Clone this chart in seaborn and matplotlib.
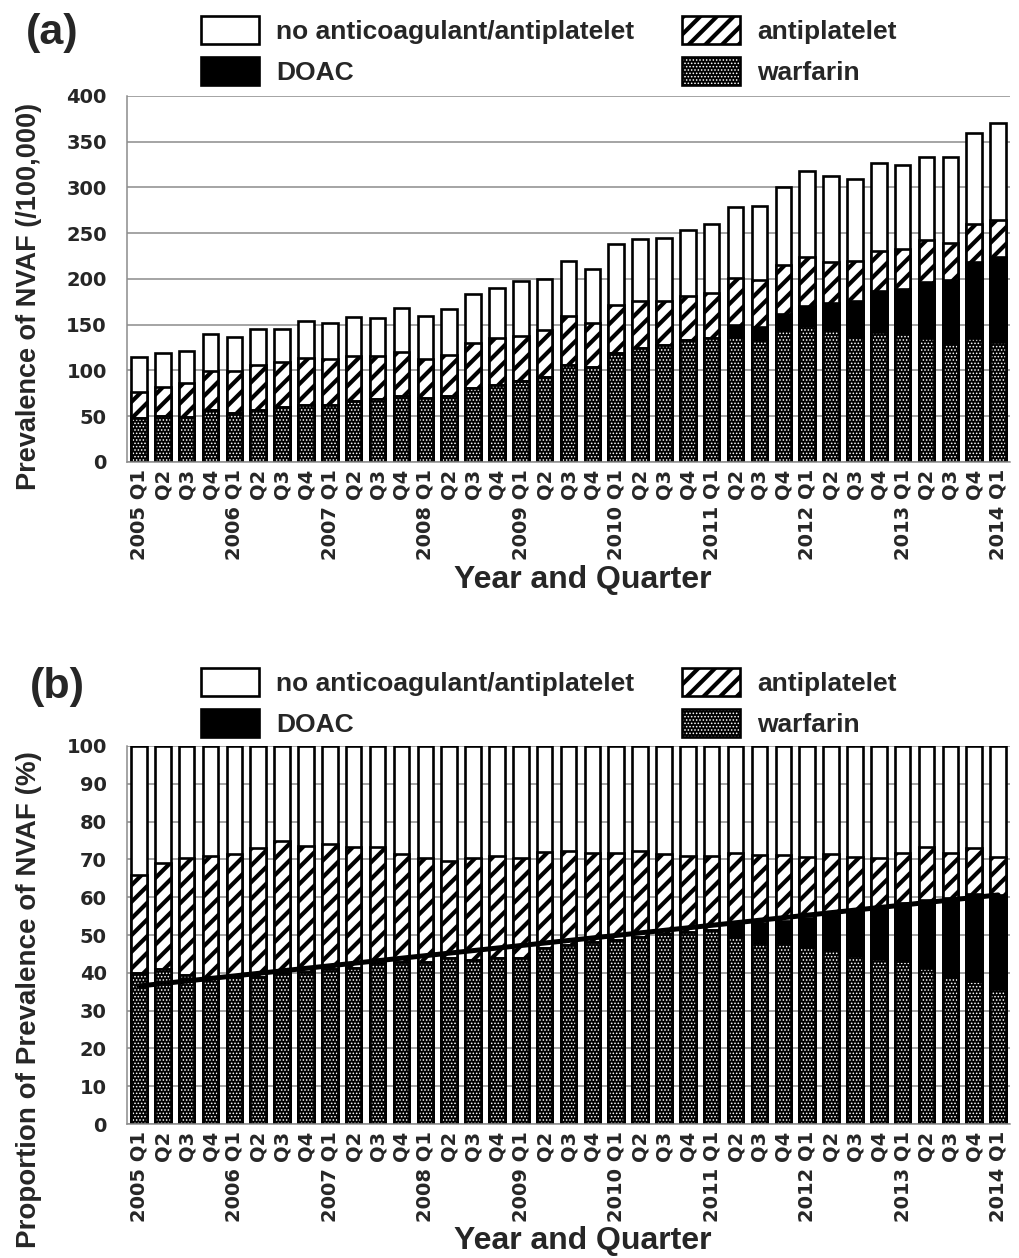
import numpy as np
import pandas as pd
import matplotlib
matplotlib.use("Agg")
import matplotlib.pyplot as plt
import matplotlib.patches as mpatches
import seaborn as sns


# ---- data ----
quarters = list(range(37))  # 2005 Q1 .. 2014 Q1
tick_labels = []
for yr in range(2005, 2015):
    for q in range(1, 5):
        if len(tick_labels) < 37:
            tick_labels.append(f"{yr} Q{q}" if q == 1 else f"Q{q}")

# (a) prevalence per 100,000 (segments)
warfarin_a = [48, 50, 49, 57, 54, 57, 60, 62, 62, 67, 69, 72, 70, 72, 81, 84, 89, 93, 106,
              104, 119, 125, 128, 133, 135, 137, 133, 144, 149, 144, 137, 142, 141, 136, 130, 135, 131]
doac_a = [0] * 25 + [13, 15, 18, 21, 30, 39, 45, 48, 61, 69, 84, 93]
antiplatelet_a = [28, 32, 37, 42, 45, 49, 49, 52, 51, 49, 47, 48, 43, 45, 49, 51, 49, 51, 53,
                  48, 53, 51, 48, 48, 50, 51, 51, 53, 54, 45, 44, 44, 44, 46, 40, 41, 40]
none_a = [39, 37, 35, 41, 38, 39, 36, 40, 39, 42, 41, 48, 46, 50, 54, 55, 60, 56, 61, 59, 66,
          68, 69, 73, 75, 78, 81, 85, 94, 93, 89, 96, 92, 90, 94, 99, 106]

# (b) proportion (%) (segments)
warfarin_b = [40.0, 40.9, 39.5, 39.0, 39.0, 39.0, 40.0, 40.3, 40.9, 41.4, 42.5, 42.8, 42.9,
              43.8, 43.4, 43.8, 44.0, 46.5, 47.4, 48.2, 48.7, 49.6, 50.3, 50.9, 51.3, 49.6,
              47.8, 47.8, 46.7, 46.0, 44.5, 43.6, 43.2, 41.2, 39.0, 37.9, 35.6]
doac_b = [0] * 25 + [3.7, 5.3, 6.0, 7.7, 9.3, 12.1, 13.9, 15.2, 18.1, 20.7, 22.9, 25.0]
antiplatelet_top_b = [65.9, 69.1, 70.5, 70.9, 71.4, 72.9, 74.9, 73.5, 74.0, 73.2, 73.4, 71.3,
                      70.5, 69.7, 70.3, 70.9, 70.5, 72.0, 72.3, 71.8, 71.8, 72.3, 71.4, 70.9,
                      70.9, 71.8, 71.2, 71.2, 70.7, 71.4, 70.7, 70.5, 71.8, 73.2, 71.6, 72.9, 70.7]
antiplatelet_b = list(np.array(antiplatelet_top_b) - np.array(warfarin_b) - np.array(doac_b))
none_b = list(100 - np.array(antiplatelet_top_b))

# linear trend of anticoagulant share (first and last quarter)
trend_x = [0, 36]
trend_b = [36.5, 60.6]

series_names = ["no anticoagulant/antiplatelet", "antiplatelet", "DOAC", "warfarin"]

# ---- style ----
sns.set_style("white")
plt.rcParams['font.family'] = ['Liberation Sans', 'DejaVu Sans']
plt.rcParams['font.weight'] = 'bold'
GREY = "#8c8c8c"
BAR_W = 0.65
BAR_LW = 1.9
STRIPES = "//"
DOTS = "....."
STRIPE_LW = 3.0
DOT_LW = 0.7


def pin_hatch_lw(artists, lw):
    # hatch width differs per layer (thick stripes, fine dots)
    for art in artists:
        if hasattr(art, "set_hatch_linewidth"):
            art.set_hatch_linewidth(lw)
        orig = art.draw

        def draw(renderer, _orig=orig, _lw=lw):
            with plt.rc_context({"hatch.linewidth": _lw}):
                _orig(renderer)
        art.draw = draw


def layer(ax, y, face, hatch=None, hatch_lw=1.0, edge="black", lw=BAR_LW, fill=True):
    n0 = len(ax.patches)
    plt.rcParams["hatch.linewidth"] = hatch_lw
    sns.barplot(x=quarters, y=y, color=face, saturation=1, width=BAR_W, edgecolor=edge,
                linewidth=lw, hatch=hatch, errorbar=None, fill=fill, ax=ax)
    if hatch:
        pin_hatch_lw(ax.patches[n0:], hatch_lw)


def stacked(ax, warfarin, doac, anti, none):
    c1 = np.array(warfarin, dtype=float)
    c2 = c1 + np.array(doac)
    c3 = c2 + np.array(anti)
    c4 = c3 + np.array(none)
    layer(ax, c4, "white")
    layer(ax, c3, "white", hatch=STRIPES, hatch_lw=STRIPE_LW)
    layer(ax, c2, "black")
    layer(ax, c1, "black", hatch=DOTS, hatch_lw=DOT_LW, edge="white", lw=0)
    layer(ax, c1, "black", fill=False)


def style_axes(ax, ymax, ystep):
    ax.set_xlim(-0.5, 36.5)
    ax.set_ylim(0, ymax)
    ax.set_yticks(np.arange(0, ymax + 1, ystep))
    ax.set_yticklabels([str(v) for v in np.arange(0, ymax + 1, ystep)],
                       fontfamily="DejaVu Sans", fontweight="bold", fontsize=14)
    ax.set_xticks(quarters)
    ax.set_xticklabels(tick_labels, rotation=90, fontfamily="DejaVu Sans",
                       fontweight="bold", fontsize=14, va="top", ha="center")
    ax.set_xticks(np.arange(-0.5, 37, 1), minor=True)
    ax.tick_params(axis="x", which="major", length=0, pad=5)
    ax.tick_params(axis="x", which="minor", length=6, width=1.1, color=GREY)
    ax.tick_params(axis="y", length=4.5, width=1.1, color=GREY, pad=10)
    ax.yaxis.grid(True, color=GREY, linewidth=1.1)
    ax.xaxis.grid(False)
    ax.set_axisbelow(True)
    sns.despine(ax=ax)
    for s in ("left", "bottom"):
        ax.spines[s].set_color(GREY)
        ax.spines[s].set_linewidth(1.1)


def add_legend(y_anchor):
    h_none = mpatches.Patch(facecolor="white", edgecolor="black", linewidth=BAR_LW)
    h_anti = mpatches.Patch(facecolor="white", edgecolor="black", hatch=STRIPES, linewidth=BAR_LW)
    h_doac = mpatches.Patch(facecolor="black", edgecolor="black", linewidth=BAR_LW)
    h_warf = (mpatches.Patch(facecolor="black", edgecolor="white", hatch=DOTS, linewidth=0),
              mpatches.Patch(facecolor="none", edgecolor="black", linewidth=BAR_LW))
    handles = [h_none, h_doac, h_anti, h_warf]
    labels = [series_names[0], series_names[2], series_names[1], series_names[3]]
    leg = fig.legend(handles, labels, ncol=2, loc="upper left", bbox_to_anchor=(0.197, y_anchor),
                     frameon=False, fontsize=19, handlelength=2.2, handleheight=1.25,
                     handletextpad=0.65, columnspacing=1.8, labelspacing=0.5, borderpad=0,
                     borderaxespad=0)
    for p in leg.findobj(mpatches.Patch):
        if p.get_hatch() == STRIPES:
            pin_hatch_lw([p], STRIPE_LW)
        elif p.get_hatch() == DOTS:
            pin_hatch_lw([p], DOT_LW)


fig = plt.figure(figsize=(10.19, 12.58), dpi=100)
ax_a = fig.add_axes([0.1246, 0.6328, 0.8666, 0.2909])
ax_b = fig.add_axes([0.1246, 0.1065, 0.8666, 0.3005])

stacked(ax_a, warfarin_a, doac_a, antiplatelet_a, none_a)
style_axes(ax_a, 400, 50)

stacked(ax_b, warfarin_b, doac_b, antiplatelet_b, none_b)
sns.lineplot(x=trend_x, y=trend_b, color="black", linewidth=3.6, ax=ax_b, zorder=5)
style_axes(ax_b, 100, 10)

ax_a.set_ylabel("Prevalence of NVAF (/100,000)", fontsize=19.5, fontweight="bold")
ax_b.set_ylabel("Proportion of Prevalence of NVAF (%)", fontsize=20, fontweight="bold")
ax_a.set_xlabel("Year and Quarter", fontsize=23, fontweight="bold")
ax_b.set_xlabel("Year and Quarter", fontsize=23, fontweight="bold")
ax_a.yaxis.set_label_coords(-0.111, 0.451)
ax_b.yaxis.set_label_coords(-0.111, 0.33)
ax_a.xaxis.set_label_coords(0.516, -0.322)
ax_b.xaxis.set_label_coords(0.516, -0.309)
for lab in (ax_a.yaxis.label, ax_b.yaxis.label, ax_a.xaxis.label, ax_b.xaxis.label):
    lab.set_va("center")
    lab.set_ha("center")
    lab.set_rotation_mode("default")

add_legend(1 - 16 / 1258)
add_legend(1 - 668 / 1258)

fig.text(52 / 1019, 1 - 33 / 1258, "(a)", fontsize=31, fontweight="bold", ha="center", va="center")
fig.text(57 / 1019, 1 - 687 / 1258, "(b)", fontsize=31, fontweight="bold", ha="center", va="center")

plt.rcParams["hatch.linewidth"] = 1.0
plt.savefig("out.png", dpi=100)
